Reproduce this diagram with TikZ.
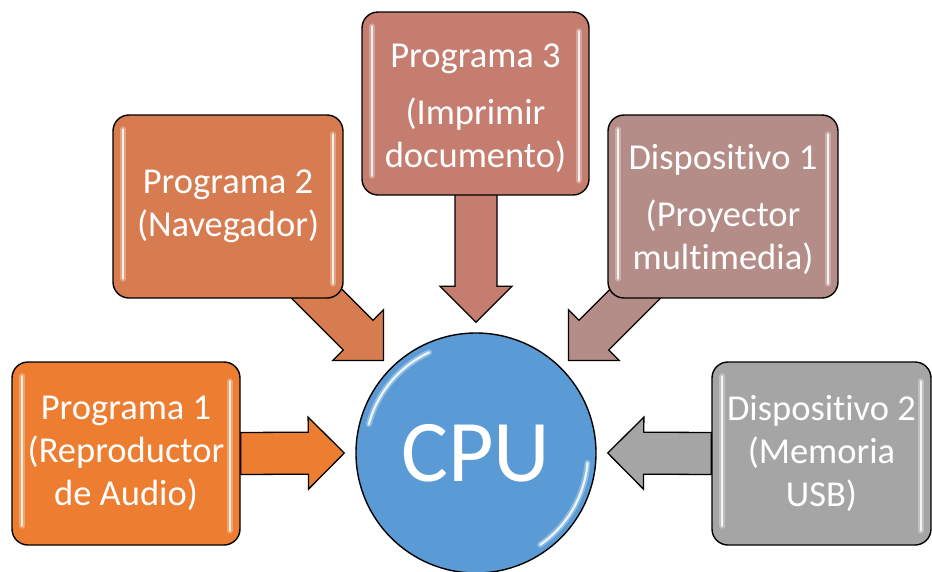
\documentclass[tikz,border=0pt]{standalone}
\usepackage{fontspec}
\setmainfont[Ligatures=NoCommon]{Carlito}
\usetikzlibrary{calc,backgrounds}
\definecolor{cone}{HTML}{ED7D31}
\definecolor{ctwo}{HTML}{D77B50}
\definecolor{cthree}{HTML}{C47D6F}
\definecolor{cfour}{HTML}{B48C88}
\definecolor{cfive}{HTML}{A5A5A5}
\definecolor{ccpu}{HTML}{5B9BD5}
\tikzset{
  boxnode/.style={draw=black, line width=1.4pt, rounded corners=16pt, minimum height=183pt,
    text=white, font=\fontsize{36.5}{43}\selectfont, align=center, inner sep=2pt},
  cpunode/.style={circle, draw=black, line width=1.4pt, fill=ccpu, minimum size=240pt,
    inner sep=0pt, text=white, font=\fontsize{88}{100}\selectfont},
  arrowline/.style={draw=black, line width=1.3pt, line join=miter},
  glossline/.style={white, line width=2.2pt, line cap=round, opacity=0.85},
  glowline/.style={white, line width=6pt, line cap=round, opacity=0.3},
}
\newcommand{\blockarrow}[3]{%
  \draw[arrowline, fill=#3] let \p1=($(#2)-(#1)$), \n1={atan2(\y1,\x1)} in
    ($(#1)+(\n1+90:21pt)$)
    -- ($(#2)+(\n1+180:36pt)+(\n1+90:21pt)$)
    -- ($(#2)+(\n1+180:36pt)+(\n1+90:36pt)$)
    -- (#2)
    -- ($(#2)+(\n1+180:36pt)+(\n1-90:36pt)$)
    -- ($(#2)+(\n1+180:36pt)+(\n1-90:21pt)$)
    -- ($(#1)+(\n1-90:21pt)$) -- cycle;}
\newcommand{\boxgloss}[1]{%
  \draw[glowline] ($(#1.north west)+(11,-15)$) -- ($(#1.south west)+(11,20)$);
  \draw[glossline] ($(#1.north west)+(11,-15)$) -- ($(#1.south west)+(11,20)$);
  \draw[glowline] ($(#1.north east)+(-11,-20)$) -- ($(#1.south east)+(-11,15)$);
  \draw[glossline] ($(#1.north east)+(-11,-20)$) -- ($(#1.south east)+(-11,15)$);}
\begin{document}
\begin{tikzpicture}[x=1pt,y=1pt]
\useasboundingbox (0,0) rectangle (932,-571);
% boxes
\node[boxnode, fill=cone, minimum width=228pt] (p1) at (126,-453.5) {Programa 1\\(Reproductor\\de Audio)};
\node[boxnode, fill=ctwo, minimum width=230pt] (p2) at (228,-206.5) {Programa 2\\(Navegador)};
\node[boxnode, fill=cthree, minimum width=227pt] (p3) at (475.5,-103.5) {\rule{0pt}{33pt}Programa 3\\[14pt](Imprimir\\documento)};
\node[boxnode, fill=cfour, minimum width=230pt] (d1) at (723,-206.5) {\rule{0pt}{31pt}Dispositivo 1\\[14pt](Proyector\\multimedia)};
\node[boxnode, fill=cfive, minimum width=219pt] (d2) at (821.5,-453.5) {Dispositivo 2\\(Memoria\\USB)};
\node[cpunode] (cpu) at (476,-453) {CPU};
\boxgloss{p1}\boxgloss{p2}\boxgloss{p3}\boxgloss{d1}\boxgloss{d2}
% highlights on CPU
\draw[glowline] ($(cpu.center)+(115:111pt)$) arc[start angle=115, end angle=165, radius=111pt];
\draw[glossline] ($(cpu.center)+(115:111pt)$) arc[start angle=115, end angle=165, radius=111pt];
\draw[glowline] ($(cpu.center)+(-55:112pt)$) arc[start angle=-55, end angle=-5, radius=112pt];
\draw[glossline] ($(cpu.center)+(-55:112pt)$) arc[start angle=-55, end angle=-5, radius=112pt];
% arrow tips and starts
\coordinate (t1) at ($(cpu.west)!-11pt!(cpu.center)$);
\coordinate (t2) at ($(cpu.135)!-10pt!(cpu.center)$);
\coordinate (t3) at ($(cpu.north)!-10pt!(cpu.center)$);
\coordinate (t4) at ($(cpu.45)!-10pt!(cpu.center)$);
\coordinate (t5) at ($(cpu.east)!-11pt!(cpu.center)$);
\coordinate (s2) at ($(t2)!-110pt!(cpu.center)$);
\coordinate (s4) at ($(t4)!-110pt!(cpu.center)$);
\coordinate (s3) at ($(t3)!-130pt!(cpu.center)$);
\begin{pgfonlayer}{background}
\blockarrow{p1.east}{t1}{cone}
\blockarrow{s2}{t2}{ctwo}
\blockarrow{s3}{t3}{cthree}
\blockarrow{s4}{t4}{cfour}
\blockarrow{d2.west}{t5}{cfive}
\end{pgfonlayer}
\end{tikzpicture}
\end{document}
